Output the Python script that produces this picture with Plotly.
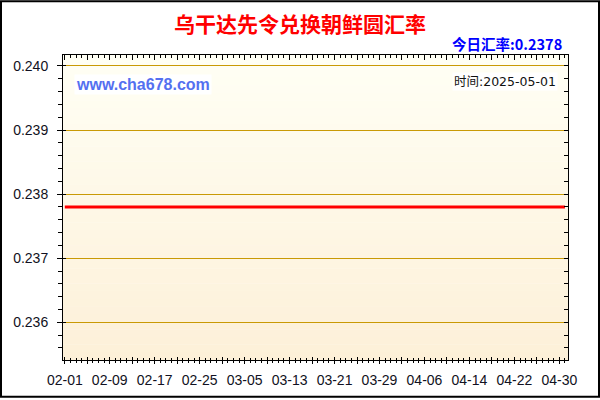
import plotly.graph_objects as go
import pandas as pd

# ---- data ----
dates = pd.date_range("2025-02-01", "2025-05-01", freq="D").strftime("%Y-%m-%d").tolist()
rates = [
    0.2378, 0.2378, 0.2378, 0.2378, 0.2378, 0.2378, 0.2378, 0.2378, 0.2378, 0.2378,
    0.2378, 0.2378, 0.2378, 0.2378, 0.2378, 0.2378, 0.2378, 0.2378, 0.2378, 0.2378,
    0.2378, 0.2378, 0.2378, 0.2378, 0.2378, 0.2378, 0.2378, 0.2378, 0.2378, 0.2378,
    0.2378, 0.2378, 0.2378, 0.2378, 0.2378, 0.2378, 0.2378, 0.2378, 0.2378, 0.2378,
    0.2378, 0.2378, 0.2378, 0.2378, 0.2378, 0.2378, 0.2378, 0.2378, 0.2378, 0.2378,
    0.2378, 0.2378, 0.2378, 0.2378, 0.2378, 0.2378, 0.2378, 0.2378, 0.2378, 0.2378,
    0.2378, 0.2378, 0.2378, 0.2378, 0.2378, 0.2378, 0.2378, 0.2378, 0.2378, 0.2378,
    0.2378, 0.2378, 0.2378, 0.2378, 0.2378, 0.2378, 0.2378, 0.2378, 0.2378, 0.2378,
    0.2378, 0.2378, 0.2378, 0.2378, 0.2378, 0.2378, 0.2378, 0.2378, 0.2378, 0.2378,
]
tick_dates = ["2025-02-01", "2025-02-05", "2025-02-09", "2025-02-13", "2025-02-17",
              "2025-02-21", "2025-02-25", "2025-03-01", "2025-03-05", "2025-03-09",
              "2025-03-13", "2025-03-17", "2025-03-21", "2025-03-25", "2025-03-29",
              "2025-04-02", "2025-04-06", "2025-04-10", "2025-04-14", "2025-04-18",
              "2025-04-22", "2025-04-26", "2025-04-30"]
tick_labels = ["02-01", "", "02-09", "", "02-17", "", "02-25", "", "03-05", "",
               "03-13", "", "03-21", "", "03-29", "", "04-06", "", "04-14", "",
               "04-22", "", "04-30"]
y_ticks = [0.236, 0.237, 0.238, 0.239, 0.240]
title_text = "乌干达先令兑换朝鲜圆汇率"
today_text = "今日汇率:0.2378"
site_text = "www.cha678.com"
time_text = "时间:2025-05-01"

# ---- layout constants ----
X_RANGE = ["2025-01-31 16:20", "2025-05-01 13:00"]
Y_RANGE = [0.235411, 0.240171]
L, R, T, B = 63, 32, 55, 38
W, H = 600, 400
PW, PH = W - L - R, H - T - B

def px(x):
    return (x - L) / PW

def py(y):
    return (H - B - y) / PH

fig = go.Figure()
fig.add_trace(go.Scatter(x=dates, y=rates, mode="lines",
                         line=dict(color="#FF0000", width=3),
                         hoverinfo="skip", showlegend=False))
# invisible helper traces so the overlay axes are drawn
for xa, ya in [("x2", "y2"), ("x3", "y3")]:
    fig.add_trace(go.Scatter(x=[dates[0]], y=[rates[0]], mode="lines",
                             xaxis=xa, yaxis=ya, hoverinfo="skip",
                             showlegend=False, line=dict(width=0)))

axis_font = dict(family="Arial, Liberation Sans, sans-serif", size=14, color="#111122")
common_x = dict(type="date", range=X_RANGE, showgrid=False, zeroline=False,
                showline=True, linecolor="black", linewidth=1,
                tickmode="array", tickvals=tick_dates, tickcolor="black")
common_y = dict(range=Y_RANGE, zeroline=False, showline=True, linecolor="black",
                linewidth=1, tickmode="array", tickvals=y_ticks, tickcolor="black")

fig.update_layout(
    width=W, height=H,
    margin=dict(l=L, r=R, t=T, b=B, pad=0),
    paper_bgcolor="white",
    plot_bgcolor="rgba(0,0,0,0)",
    showlegend=False,
    xaxis=dict(**common_x, side="bottom", anchor="y", ticks="outside", ticklen=3,
               ticktext=tick_labels, tickfont=axis_font, ticklabelstandoff=4,
               minor=dict(tickmode="linear", tick0="2025-02-01", dtick=86400000,
                          ticks="outside", ticklen=2, tickcolor="black")),
    xaxis2=dict(**common_x, side="bottom", anchor="y", overlaying="x", ticks="inside",
                ticklen=3, showticklabels=False,
                minor=dict(tickmode="linear", tick0="2025-02-01", dtick=86400000,
                           ticks="inside", ticklen=2, tickcolor="black")),
    xaxis3=dict(**common_x, side="top", anchor="y", overlaying="x", ticks="inside",
                ticklen=5, showticklabels=False,
                minor=dict(tickmode="linear", tick0="2025-02-01", dtick=86400000,
                           ticks="inside", ticklen=3, tickcolor="black")),
    yaxis=dict(**common_y, side="left", anchor="x", ticks="outside", ticklen=5,
               tickformat=".3f", tickfont=axis_font, ticklabelstandoff=6,
               showgrid=True, gridcolor="#C99A06", gridwidth=1,
               minor=dict(tickmode="linear", tick0=0.236, dtick=0.0002,
                          ticks="outside", ticklen=4, tickcolor="black", showgrid=False)),
    yaxis2=dict(**common_y, side="right", anchor="x", overlaying="y", ticks="inside",
                ticklen=4, showticklabels=False, showgrid=False,
                minor=dict(tickmode="linear", tick0=0.236, dtick=0.0002,
                           ticks="inside", ticklen=4, tickcolor="black")),
    yaxis3=dict(**common_y, side="left", anchor="x", overlaying="y", ticks="inside",
                ticklen=3, showticklabels=False, showgrid=False),
)

# background gradient bands inside the plot area
N = 40
top_c = (255, 255, 245)
bot_c = (253, 240, 216)
shapes = []
for i in range(N):
    t = (i + 0.5) / N
    c = tuple(round(top_c[k] + (bot_c[k] - top_c[k]) * t) for k in range(3))
    shapes.append(dict(type="rect", xref="paper", yref="paper",
                       x0=0, x1=1, y0=1 - (i + 1) / N, y1=1 - i / N + 0.001,
                       fillcolor="rgb(%d,%d,%d)" % c, line=dict(width=0),
                       layer="below"))
# outer frame
shapes.append(dict(type="rect", xref="paper", yref="paper",
                   x0=px(1), x1=px(599), y0=py(399), y1=py(1),
                   line=dict(color="black", width=2), fillcolor="rgba(0,0,0,0)",
                   layer="above"))
fig.update_layout(shapes=shapes)

cjk = "Noto Sans CJK SC, Microsoft YaHei, sans-serif"
fig.add_annotation(text="<b>%s</b>" % title_text, xref="paper", yref="paper",
                   x=px(300), y=py(23), xanchor="center", yanchor="middle",
                   showarrow=False, font=dict(family=cjk, size=21, color="#FF0000"))
fig.add_annotation(text="<b>%s</b>" % today_text, xref="paper", yref="paper",
                   x=px(564), y=py(43), xanchor="right", yanchor="middle",
                   showarrow=False, font=dict(family=cjk, size=14.5, color="#0000FF"))
fig.add_annotation(text="<b>%s</b>" % site_text, xref="paper", yref="paper",
                   x=px(74), y=py(84.5), xanchor="left", yanchor="middle",
                   showarrow=False, bgcolor="white", borderpad=1,
                   font=dict(family="Arial, Liberation Sans, sans-serif", size=16,
                             color="#5470F0"))
fig.add_annotation(text=time_text, xref="paper", yref="paper",
                   x=px(558), y=py(82), xanchor="right", yanchor="middle",
                   showarrow=False, bgcolor="white", borderpad=1,
                   font=dict(family="DejaVu Sans, Noto Sans CJK SC, sans-serif",
                             size=12.5, color="#111111"))

fig.write_html("out.html", config={"displayModeBar": False},
               post_script="document.body.style.margin='0';")
